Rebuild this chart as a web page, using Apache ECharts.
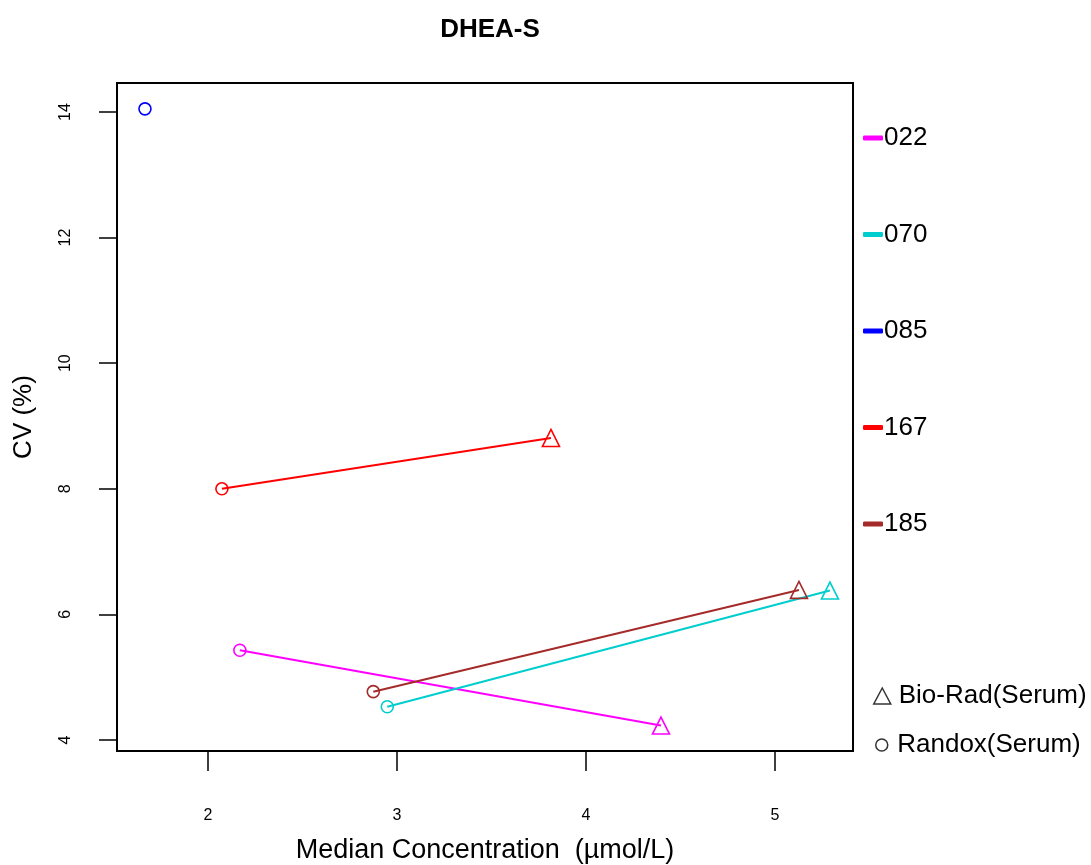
<!DOCTYPE html>
<html>
<head>
<meta charset="utf-8">
<script src="https://cdn.jsdelivr.net/npm/echarts@6/dist/echarts.min.js"></script>
<style>html,body{margin:0;padding:0;background:#fff;}#c{width:1091px;height:865px;}</style>
</head>
<body>
<div id="c"></div>
<script>
// ---- data ----
const labs = ['022', '070', '085', '167', '185'];
const labColors = ['#FF00FF', '#00CDCD', '#0000FF', '#FF0000', '#A52A2A'];
// Randox(Serum) points (circle)
const randoxX = [2.169, 2.949, 1.667, 2.074, 2.875];
const randoxY = [5.43, 4.53, 14.05, 8.00, 4.77];
// Bio-Rad(Serum) points (triangle); null = no value
const bioradX = [4.397, 5.291, null, 3.815, 5.127];
const bioradY = [4.23, 6.38, null, 8.81, 6.39];
const xTicks = [2, 3, 4, 5];
const yTicks = [4, 6, 8, 10, 12, 14];
const methods = ['Bio-Rad(Serum)', 'Randox(Serum)'];

const FONT = 'Liberation Sans, Arial, sans-serif';
const chart = echarts.init(document.getElementById('c'));

const series = labs.map((lab, i) => {
  const data = [{
    value: [randoxX[i], randoxY[i]], symbol: 'circle', symbolSize: 12
  }];
  if (bioradX[i] !== null) {
    data.push({ value: [bioradX[i], bioradY[i]], symbol: 'triangle', symbolSize: 17 });
  }
  return {
    name: lab,
    type: 'line',
    data: data,
    color: labColors[i],
    lineStyle: { color: labColors[i], width: 2 },
    itemStyle: { color: 'rgba(0,0,0,0)', borderColor: labColors[i], borderWidth: 1.6 },
    showAllSymbol: true,
    animation: false,
    z: 3
  };
});
methods.forEach(m => {
  series.push({ name: m, type: 'scatter', data: [], animation: false });
});

const methodText = { fontFamily: FONT, fontSize: 26, color: '#000', padding: [0, 0, 0, 3] };

chart.setOption({
  animation: false,
  title: {
    text: 'DHEA-S', left: 485, top: 12, textAlign: 'center',
    textStyle: { fontFamily: FONT, fontSize: 26, fontWeight: 'bold', color: '#000' }
  },
  grid: {
    left: 117, right: 238, top: 83, bottom: 114,
    outerBoundsMode: 'none', containLabel: false,
    show: true, borderColor: '#000', borderWidth: 2, backgroundColor: 'transparent'
  },
  legend: [{
    orient: 'vertical', left: 858, top: 120,
    icon: 'roundRect', itemWidth: 20, itemHeight: 5, itemGap: 70.5,
    textStyle: { fontFamily: FONT, fontSize: 26, color: '#000', padding: [0, 0, 0, -4] },
    data: labs.map((l, i) => ({ name: l, itemStyle: { color: labColors[i], borderWidth: 0 } })),
    selectedMode: false
  }, {
    orient: 'vertical', left: 868, top: 678,
    itemWidth: 17, itemHeight: 16,
    textStyle: methodText,
    data: [
      { name: methods[0], icon: 'triangle', itemStyle: { color: 'rgba(0,0,0,0)', borderColor: '#000', borderWidth: 1.5 } }
    ],
    selectedMode: false
  }, {
    orient: 'vertical', left: 870, top: 727,
    itemWidth: 15, itemHeight: 12,
    textStyle: methodText,
    data: [
      { name: methods[1], icon: 'circle', itemStyle: { color: 'rgba(0,0,0,0)', borderColor: '#000', borderWidth: 1.5 } }
    ],
    selectedMode: false
  }],
  xAxis: {
    type: 'value', min: 1.519, max: 5.413,
    name: 'Median Concentration  (µmol/L)', nameLocation: 'middle', nameGap: 86.5,
    nameTextStyle: { fontFamily: FONT, fontSize: 27, color: '#000' },
    axisLine: { show: false },
    splitLine: { show: false },
    axisTick: { show: true, inside: false, length: 20, customValues: xTicks, lineStyle: { color: '#000', width: 1.5 } },
    axisLabel: { customValues: xTicks, margin: 57, fontFamily: FONT, fontSize: 16, color: '#000' }
  },
  yAxis: {
    type: 'value', min: 3.825, max: 14.462,
    name: 'CV (%)', nameLocation: 'middle', nameGap: 80,
    nameTextStyle: { fontFamily: FONT, fontSize: 26, color: '#000' },
    axisLine: { show: false },
    splitLine: { show: false },
    axisTick: { show: true, inside: false, length: 18, customValues: yTicks, lineStyle: { color: '#000', width: 1.5 } },
    axisLabel: { customValues: yTicks, rotate: 90, margin: 43.5, fontFamily: FONT, fontSize: 16, color: '#000' }
  },
  series: series
});
</script>
</body>
</html>
